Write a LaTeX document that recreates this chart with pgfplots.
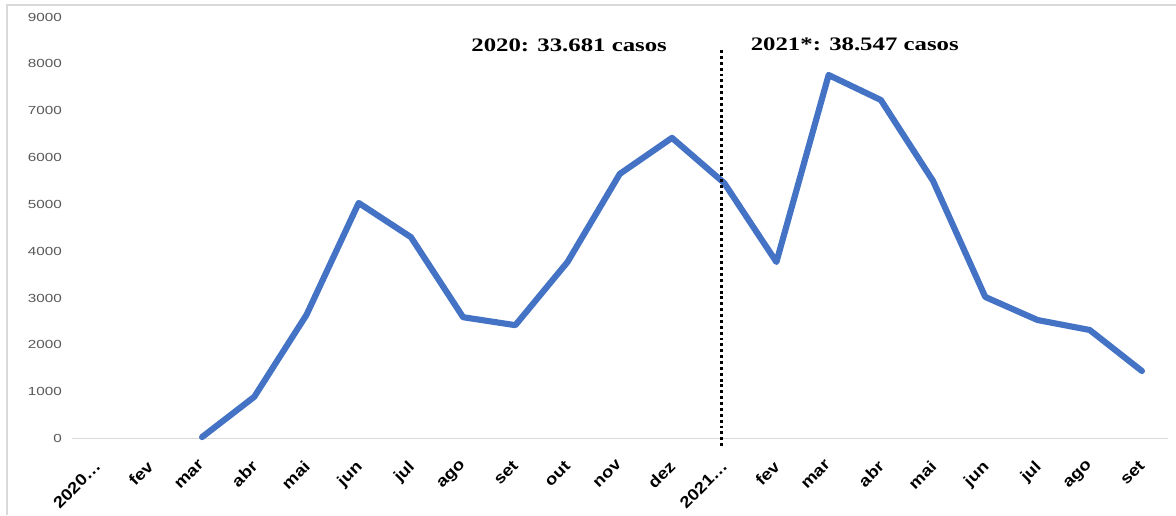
\documentclass[border=0pt]{standalone}
\usepackage{fontspec}
\setmainfont{Liberation Sans}
\newfontfamily\tickfont[FakeStretch=1.3]{Liberation Sans}
\newfontfamily\xtickfont[FakeStretch=1.15]{Liberation Sans}
\newfontfamily\annfont[FakeStretch=1.3]{Liberation Serif}
\usepackage{pgfplots}
\pgfplotsset{compat=1.18}
\definecolor{excelblue}{RGB}{68,114,196}
\definecolor{ticktext}{RGB}{89,89,89}
\definecolor{frame}{RGB}{217,217,217}
\begin{document}
\begin{tikzpicture}
\useasboundingbox (0,0) rectangle (882pt,386.25pt);
\fill[white] (0,0) rectangle (882pt,386.25pt);
\draw[frame, line width=1.1pt] (5.25pt,0) -- (5.25pt,382.5pt) -- (882pt,382.5pt);
\begin{axis}[
  at={(53.625pt,57.375pt)}, anchor=south west,
  scale only axis, width=822.4pt, height=316.1pt,
  xmin=-0.5, xmax=20.5, ymin=0, ymax=9000,
  axis x line=bottom, axis y line=left,
  x axis line style={frame, line width=0.8pt, -},
  y axis line style={draw=none},
  xtick={0,...,20},
  xticklabels={2020…,fev,mar,abr,mai,jun,jul,ago,set,out,nov,dez,2021…,fev,mar,abr,mai,jun,jul,ago,set},
  ytick={0,1000,...,9000},
  major tick length=0pt,
  scaled y ticks=false,
  /pgf/number format/1000 sep={},
  /pgf/number format/assume math mode=true,
  y tick label style={font=\tickfont\fontsize{8.8}{10}\selectfont, text=ticktext, inner sep=0pt, anchor=east, xshift=-7pt},
  x tick label style={font=\xtickfont\bfseries\fontsize{12}{14}\selectfont, text=black, rotate=45, anchor=north east, inner sep=0pt, yshift=-9pt, xshift=-13pt},
  clip=false,
]
\addplot[excelblue, line width=4.6pt, line join=round, line cap=round] coordinates {
(2,30) (3,890) (4,2640) (5,5030) (6,4300) (7,2590) (8,2420) (9,3770) (10,5650) (11,6420)
(12,5456) (13,3769) (14,7762) (15,7228) (16,5500) (17,3022) (18,2530) (19,2317) (20,1441)
};
\draw[black, line width=2.2pt, dash pattern=on 2.2pt off 2.2pt] (axis cs:11.95,8295) -- (axis cs:11.95,-160);
\node[font=\annfont\bfseries\fontsize{14.3}{16}\selectfont] at (axis cs:9.03,8390) {2020: 33.681 casos};
\node[font=\annfont\bfseries\fontsize{14.3}{16}\selectfont] at (axis cs:14.5,8410) {2021*: 38.547 casos};
\end{axis}
\end{tikzpicture}
\end{document}
